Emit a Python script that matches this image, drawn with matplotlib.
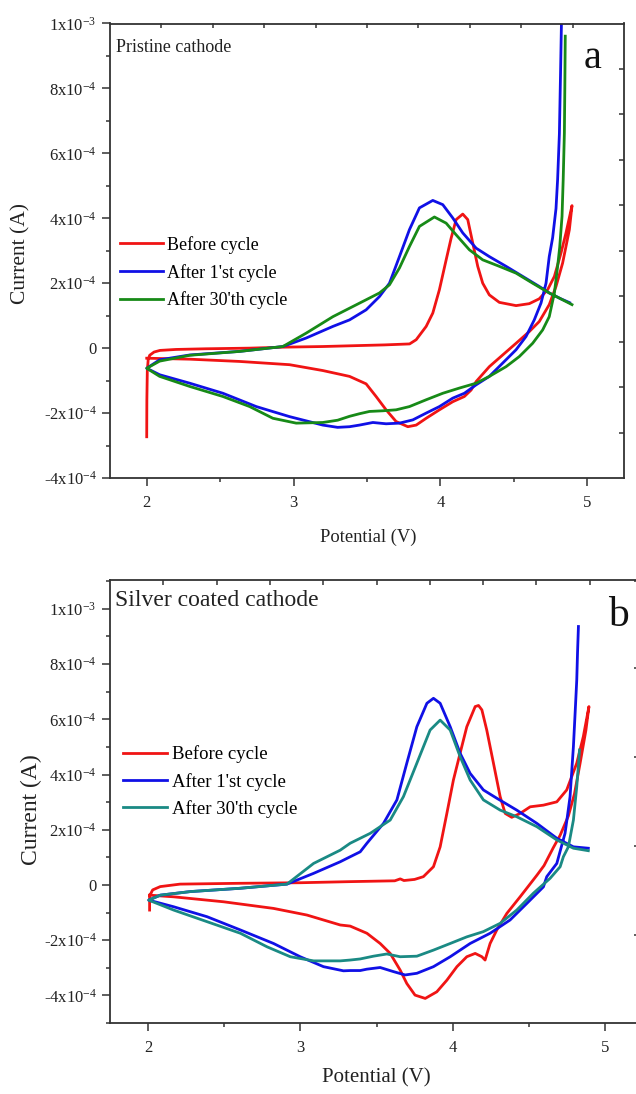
"""Cyclic voltammetry of pristine and silver coated cathodes (two stacked panels)."""

import matplotlib
matplotlib.use("Agg")
import matplotlib.pyplot as plt
from matplotlib.ticker import MultipleLocator, FixedLocator, FuncFormatter

plt.rcParams["font.family"] = ["Liberation Serif", "DejaVu Serif"]
plt.rcParams["mathtext.fontset"] = "custom"
plt.rcParams["mathtext.rm"] = "Liberation Serif"
plt.rcParams["mathtext.it"] = "Liberation Serif:italic"

# ── data: potential (V) and current (1e-4 A) ─────────────────────────────────
labels = ["Before cycle", "After 1'st cycle", "After 30'th cycle"]

# panel a — pristine cathode
a_red_v = [2.0, 2.001, 2.004, 2.01, 2.02, 2.05, 2.09, 2.2, 2.4, 2.7, 2.93, 3.2, 3.45,
           3.62, 3.79, 3.835, 3.903, 3.948, 3.993, 4.039, 4.073, 4.107, 4.152, 4.186,
           4.22, 4.254, 4.288, 4.333, 4.401, 4.515, 4.605, 4.673, 4.73, 4.776, 4.821,
           4.855, 4.896, 4.878, 4.832, 4.787, 4.741, 4.673, 4.605, 4.515, 4.424, 4.333,
           4.243, 4.209, 4.163, 4.084, 3.993, 3.903, 3.835, 3.778, 3.698, 3.63, 3.562,
           3.494, 3.381, 3.199, 2.973, 2.633, 2.293, 2.0]
a_red_i = [-2.73, -1.6, -0.7, -0.36, -0.22, -0.12, -0.07, -0.04, -0.02, 0.0, 0.03, 0.05, 0.08,
           0.10, 0.13, 0.26, 0.67, 1.08, 1.80, 2.72, 3.39, 3.96, 4.13, 3.96,
           3.24, 2.52, 2.00, 1.64, 1.41, 1.31, 1.37, 1.52, 1.80, 2.21, 2.93,
           3.55, 4.39, 3.65, 2.62, 1.90, 1.34, 0.82, 0.51, 0.15, -0.21, -0.57,
           -1.03, -1.29, -1.49, -1.65, -1.90, -2.16, -2.37, -2.42, -2.26, -1.90, -1.49,
           -1.10, -0.87, -0.69, -0.51, -0.41, -0.34, -0.31]

a_blue_v = [4.826, 4.818, 4.81, 4.798, 4.787, 4.764, 4.741, 4.719, 4.685, 4.639, 4.583,
            4.515, 4.424, 4.333, 4.243, 4.163, 4.084, 3.993, 3.903, 3.812, 3.721, 3.63,
            3.54, 3.449, 3.381, 3.3, 3.199, 2.973, 2.746, 2.519, 2.293, 2.088, 2.0,
            2.088, 2.293, 2.633, 2.927, 3.085, 3.268, 3.381, 3.494, 3.585, 3.653, 3.721,
            3.789, 3.857, 3.948, 4.016, 4.084, 4.152, 4.243, 4.333, 4.447, 4.56, 4.673,
            4.741, 4.82, 4.88]
a_blue_i = [10.5, 8.5, 6.6, 5.2, 4.3, 3.4, 2.82, 2.0, 1.39, 0.87, 0.36,
            -0.05, -0.46, -0.87, -1.13, -1.39, -1.54, -1.80, -2.0, -2.21, -2.31, -2.33,
            -2.29, -2.37, -2.42, -2.44, -2.37, -2.11, -1.80, -1.39, -1.08, -0.82, -0.62,
            -0.36, -0.21, -0.10, 0.05, 0.31, 0.67, 0.87, 1.18, 1.59, 2.00, 2.82,
            3.65, 4.32, 4.55, 4.42, 4.01, 3.55, 3.08, 2.82, 2.52, 2.21, 1.90,
            1.70, 1.52, 1.40]

a_green_v = [4.850, 4.847, 4.844, 4.836, 4.828, 4.812, 4.798, 4.776, 4.741, 4.696, 4.628,
             4.537, 4.447, 4.333, 4.243, 4.129, 4.016, 3.903, 3.789, 3.698, 3.607, 3.517,
             3.449, 3.381, 3.3, 3.199, 3.018, 2.859, 2.701, 2.519, 2.293, 2.088, 2.0,
             2.088, 2.293, 2.633, 2.927, 3.085, 3.268, 3.381, 3.494, 3.585, 3.653, 3.721,
             3.789, 3.857, 3.959, 4.039, 4.107, 4.197, 4.288, 4.401, 4.515, 4.628, 4.741,
             4.896]
a_green_i = [9.61, 8.0, 6.63, 5.2, 4.06, 3.1, 2.52, 1.70, 0.97, 0.56, 0.15,
             -0.26, -0.57, -0.87, -1.08, -1.23, -1.39, -1.59, -1.80, -1.90, -1.93, -1.95,
             -2.02, -2.10, -2.22, -2.29, -2.31, -2.16, -1.80, -1.49, -1.18, -0.87, -0.62,
             -0.40, -0.22, -0.10, 0.05, 0.46, 0.97, 1.23, 1.49, 1.70, 1.95, 2.47,
             3.13, 3.75, 4.04, 3.85, 3.49, 3.03, 2.72, 2.52, 2.31, 2.00, 1.70,
             1.34]

# panel b — silver coated cathode
b_red_v = [2.01, 2.01, 2.03, 2.08, 2.21, 2.606, 3.0, 3.327, 3.62, 3.656, 3.68, 3.75, 3.808,
           3.874, 3.918, 3.962, 4.005, 4.049, 4.093, 4.148, 4.17, 4.192, 4.224, 4.268, 4.312,
           4.345, 4.388, 4.443, 4.509, 4.596, 4.684, 4.749, 4.815, 4.858, 4.895,
           4.875, 4.837, 4.80, 4.76, 4.706, 4.661, 4.60, 4.553, 4.443, 4.356, 4.29, 4.246,
           4.213, 4.192, 4.148, 4.093, 4.028, 3.962, 3.896, 3.82, 3.753, 3.699, 3.655,
           3.59, 3.524, 3.437, 3.327, 3.262, 3.043, 2.824, 2.496, 2.168, 2.01]
b_red_i = [-0.91, -0.40, -0.18, -0.06, 0.03, 0.06, 0.08, 0.12, 0.15, 0.22, 0.16, 0.20, 0.30,
           0.66, 1.38, 2.59, 3.80, 4.77, 5.73, 6.46, 6.50, 6.34, 5.61, 4.41, 3.20,
           2.59, 2.45, 2.59, 2.83, 2.89, 3.01, 3.44, 4.41, 5.37, 6.46,
           5.60, 4.41, 3.30, 2.50, 1.80, 1.35, 0.70, 0.35, -0.43, -1.03, -1.63, -2.12,
           -2.72, -2.60, -2.48, -2.60, -2.96, -3.45, -3.87, -4.11, -3.99, -3.57, -3.08,
           -2.48, -2.12, -1.75, -1.49, -1.45, -1.09, -0.85, -0.61, -0.43, -0.37]

b_blue_v = [4.826, 4.82, 4.815, 4.804, 4.793, 4.771, 4.749, 4.738, 4.684, 4.618, 4.596,
            4.487, 4.377, 4.246, 4.115, 3.984, 3.874, 3.765, 3.688, 3.612, 3.524, 3.437,
            3.393, 3.327, 3.283, 3.152, 2.999, 2.824, 2.606, 2.387, 2.168, 2.004,
            2.08, 2.278, 2.606, 2.912, 3.087, 3.262, 3.327, 3.393, 3.437, 3.546, 3.634,
            3.699, 3.765, 3.831, 3.874, 3.918, 3.984, 4.049, 4.115, 4.202, 4.29, 4.421,
            4.553, 4.684, 4.793, 4.891]
b_blue_i = [9.36, 8.4, 7.42, 6.2, 5.01, 3.20, 2.30, 1.87, 0.78, 0.30, -0.07,
            -0.67, -1.27, -1.75, -2.12, -2.60, -2.96, -3.20, -3.26, -3.14, -2.99, -3.05,
            -3.10, -3.10, -3.11, -2.96, -2.60, -2.12, -1.63, -1.15, -0.79, -0.55,
            -0.37, -0.24, -0.12, 0.03, 0.42, 0.84, 1.02, 1.20, 1.51, 2.23, 3.08,
            4.41, 5.73, 6.58, 6.76, 6.58, 5.73, 4.77, 4.04, 3.44, 3.14, 2.71,
            2.23, 1.69, 1.38, 1.33]

b_teal_v = [4.833, 4.824, 4.815, 4.793, 4.76, 4.727, 4.706, 4.64, 4.53, 4.421, 4.312,
            4.202, 4.093, 3.984, 3.874, 3.765, 3.655, 3.568, 3.48, 3.393, 3.327, 3.262,
            3.087, 2.934, 2.781, 2.606, 2.387, 2.168, 2.004,
            2.08, 2.278, 2.606, 2.912, 3.087, 3.262, 3.327, 3.393, 3.459, 3.59, 3.677,
            3.765, 3.852, 3.918, 3.984, 4.049, 4.115, 4.202, 4.312, 4.421, 4.553, 4.684,
            4.793, 4.891]
b_teal_i = [4.89, 4.2, 3.56, 2.35, 1.38, 1.02, 0.66, 0.24, -0.30, -0.91, -1.39,
            -1.69, -1.88, -2.12, -2.36, -2.58, -2.60, -2.50, -2.58, -2.68, -2.72, -2.75,
            -2.75, -2.60, -2.24, -1.75, -1.33, -0.91, -0.55,
            -0.37, -0.24, -0.12, 0.03, 0.78, 1.26, 1.51, 1.69, 1.87, 2.35, 3.20,
            4.41, 5.61, 5.97, 5.61, 4.65, 3.80, 3.08, 2.71, 2.47, 2.11, 1.63,
            1.33, 1.24]

# tick positions of the mirrored (top / right) axes
top_ticks = [2.1, 2.45, 2.8, 3.15, 3.5, 3.85, 4.2, 4.55, 4.9]
a_right_ticks = [8.6, 7.2, 5.8, 4.4, 3.0, 1.6, 0.2, -1.2, -2.6]
b_right_ticks = [11.0, 7.86, 4.64, 1.41, -1.8]

W, H = 636, 1094


def fmt_current(val, pos):
    if abs(val) < 1e-12:
        return "0"
    exp = -3 if abs(val) >= 9.99e-4 else -4
    mant = int(round(val / 10.0 ** exp))
    return f"{mant}x10$^{{{exp}}}$"


def style_axes(ax, right_ticks, right_len):
    for sp in ax.spines.values():
        sp.set_color("#333333")
        sp.set_linewidth(1.3)
    ax.set_xlim(1.75, 5.25)
    ax.xaxis.set_major_locator(FixedLocator([2, 3, 4, 5]))
    ax.xaxis.set_minor_locator(MultipleLocator(0.5))
    ax.yaxis.set_major_locator(MultipleLocator(2e-4))
    ax.yaxis.set_minor_locator(MultipleLocator(1e-4))
    ax.yaxis.set_major_formatter(FuncFormatter(fmt_current))
    ax.tick_params(which="both", direction="out", top=False, right=False,
                   color="#333333", width=1.1, labelsize=12, labelcolor="#222222")
    ax.tick_params(which="major", length=6, pad=3.5)
    ax.tick_params(which="minor", length=3.2)
    ax.tick_params(axis="x", which="major", pad=6)

    top = ax.secondary_xaxis("top")
    top.xaxis.set_major_locator(FixedLocator(top_ticks))
    top.tick_params(direction="in", length=3.5, width=1.1, color="#333333",
                    labeltop=False)
    top.spines["top"].set_visible(False)

    rgt = ax.secondary_yaxis("right")
    rgt.yaxis.set_major_locator(FixedLocator([t * 1e-4 for t in right_ticks]))
    rgt.tick_params(direction="in", length=right_len, width=1.1, color="#333333",
                    labelright=False)
    rgt.spines["right"].set_visible(False)


def px(x, y):
    return x / W, 1 - y / H


fig = plt.figure(figsize=(W / 100, H / 100), dpi=100)
lw = 2.0

# ── panel a ──────────────────────────────────────────────────────────────────
ax_a = fig.add_axes([110 / W, 1 - 478 / H, 514 / W, 454.5 / H])
ax_a.plot(a_red_v, [i * 1e-4 for i in a_red_i], color="#f01414", lw=lw,
          solid_joinstyle="round", label=labels[0])
ax_a.plot(a_blue_v, [i * 1e-4 for i in a_blue_i], color="#1010e6", lw=lw,
          solid_joinstyle="round", label=labels[1])
ax_a.plot(a_green_v, [i * 1e-4 for i in a_green_i], color="#178a17", lw=lw,
          solid_joinstyle="round", label=labels[2])
ax_a.set_ylim(-4e-4, 1e-3)
style_axes(ax_a, a_right_ticks, 3.5)
ax_a.legend(loc="center left", bbox_to_anchor=(0.0195, 0.452), frameon=False,
            fontsize=13, handlelength=2.4, handletextpad=0.2, labelspacing=0.55,
            borderpad=0, borderaxespad=0)

fig.text(*px(116, 48), "Pristine cathode", fontsize=13, ha="left", va="center",
         color="#222222")
fig.text(*px(593, 58), "a", fontsize=29, ha="center", va="center", color="#111111")
fig.text(*px(21, 253), "Current (A)", fontsize=15.5, rotation=90, ha="center",
         va="center", color="#222222")
fig.text(*px(368, 537), "Potential (V)", fontsize=13.3, ha="center", va="center",
         color="#222222")

# ── panel b ──────────────────────────────────────────────────────────────────
ax_b = fig.add_axes([110 / W, 1 - 1023 / H, 533 / W, 442.6 / H])
ax_b.plot(b_red_v, [i * 1e-4 for i in b_red_i], color="#f01414", lw=lw,
          solid_joinstyle="round", label=labels[0])
ax_b.plot(b_blue_v, [i * 1e-4 for i in b_blue_i], color="#1010e6", lw=lw,
          solid_joinstyle="round", label=labels[1])
ax_b.plot(b_teal_v, [i * 1e-4 for i in b_teal_i], color="#1a8a84", lw=lw,
          solid_joinstyle="round", label=labels[2])
ax_b.set_ylim(-5e-4, 1.103e-3)
style_axes(ax_b, b_right_ticks, 6.5)
ax_b.legend(loc="center left", bbox_to_anchor=(0.0244, 0.545), frameon=False,
            fontsize=13.5, handlelength=2.35, handletextpad=0.25, labelspacing=0.5,
            borderpad=0, borderaxespad=0)

fig.text(*px(115, 600), "Silver coated cathode", fontsize=17, ha="left", va="center",
         color="#222222")
fig.text(*px(618, 616), "b", fontsize=30, ha="center", va="center", color="#111111")
fig.text(*px(31, 810), "Current (A)", fontsize=17, rotation=90, ha="center",
         va="center", color="#222222")
fig.text(*px(376, 1078), "Potential (V)", fontsize=15, ha="center", va="center",
         color="#222222")

fig.savefig("out.png", dpi=100)
